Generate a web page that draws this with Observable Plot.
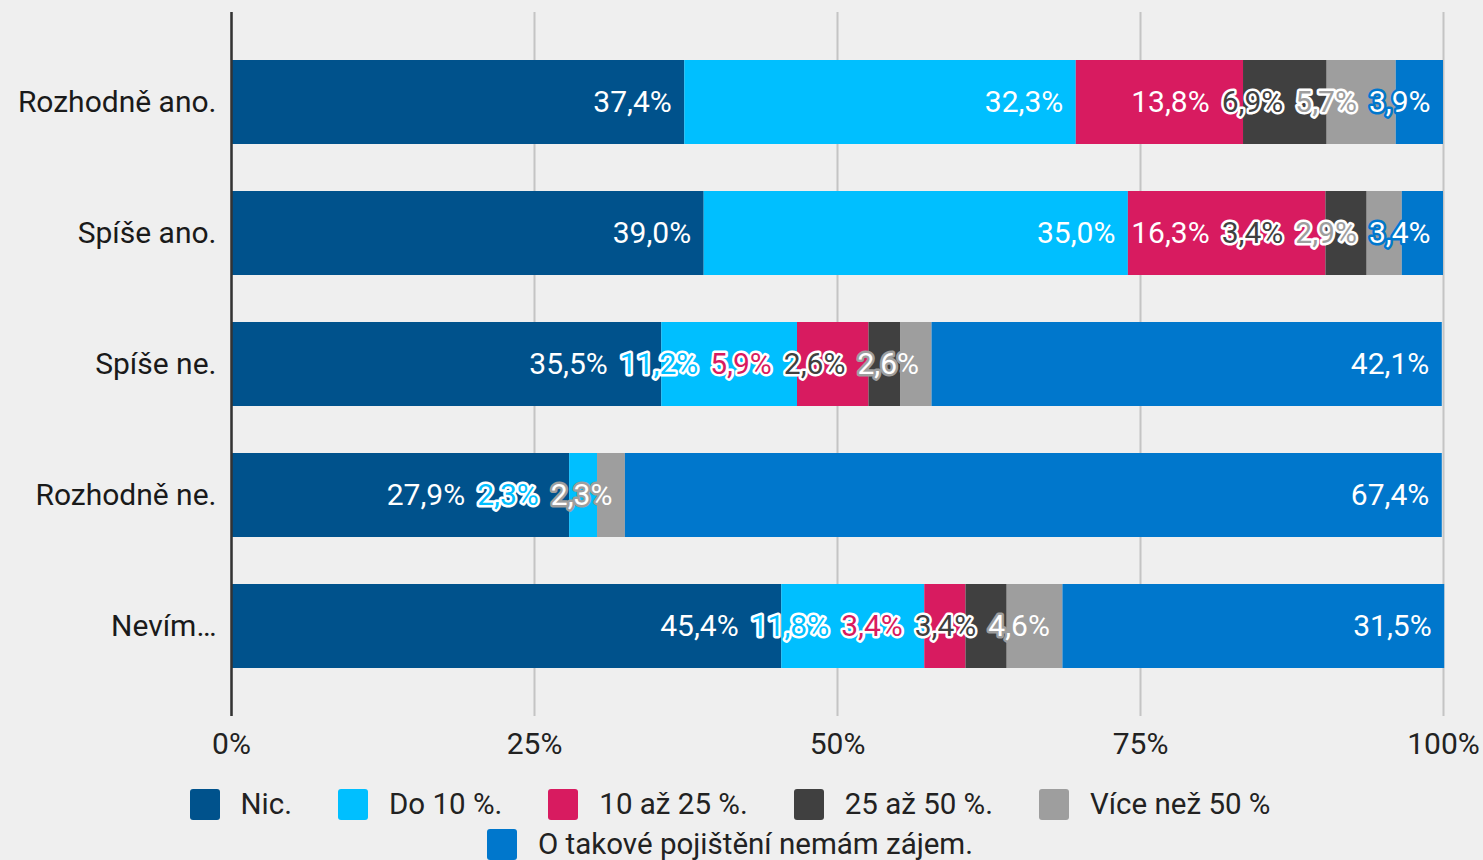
<!DOCTYPE html>
<html>
<head>
<meta charset="utf-8">
<script src="https://cdn.jsdelivr.net/npm/d3@7"></script>
<script src="https://cdn.jsdelivr.net/npm/@observablehq/plot@0.6"></script>
<style>
  html, body { margin: 0; padding: 0; background: #efefef; font-family: Roboto, sans-serif; }
  #wrap { position: relative; width: 1483px; height: 860px; overflow: hidden; }
  #legend { position: absolute; left: 0; top: 789px; width: 1460px; }
  #legend .inner { max-width: 1150px; margin: 0 auto; display: flex; flex-wrap: wrap; justify-content: center; column-gap: 46px; row-gap: 10px; }
  .item { display: flex; align-items: center; font-size: 29.5px; color: #222; height: 30px; }
  .sw { width: 30px; height: 31px; border-radius: 3px; margin-right: 21px; }
</style>
</head>
<body>
<div id="wrap"><div id="chart"></div><div id="legend"><div class="inner"></div></div></div>
<script>
const categories = ["Rozhodně ano.", "Spíše ano.", "Spíše ne.", "Rozhodně ne.", "Nevím…"];
const seriesNames = ["Nic.", "Do 10 %.", "10 až 25 %.", "25 až 50 %.", "Více než 50 %", "O takové pojištění nemám zájem."];
const seriesColors = ["#00528c", "#00bfff", "#d81b60", "#404040", "#9e9e9e", "#0077cc"];
const nic        = [37.4, 39.0, 35.5, 27.9, 45.4];
const do10       = [32.3, 35.0, 11.2, 2.3, 11.8];
const p10to25    = [13.8, 16.3, 5.9, 0, 3.4];
const p25to50    = [6.9, 3.4, 2.6, 0, 3.4];
const over50     = [5.7, 2.9, 2.6, 2.3, 4.6];
const noInterest = [3.9, 3.4, 42.1, 67.4, 31.5];
const xTicks = [0, 25, 50, 75, 100];

const series = [nic, do10, p10to25, p25to50, over50, noInterest];

const W = 1483, H = 770, mL = 231, mR = 40, mT = 12, mB = 54;
const plotW = W - mL - mR;
const u = 100 / plotW; // data units per px
const FS = 30;

const ctx = document.createElement("canvas").getContext("2d");
ctx.font = `${FS}px Roboto`;
const fmt = v => v.toFixed(1).replace(".", ",") + "%";

// build stacked segments
const segs = [];
categories.forEach((cat, ci) => {
  let acc = 0;
  series.forEach((vals, si) => {
    const v = vals[ci];
    segs.push({cat, si, name: seriesNames[si], color: seriesColors[si], v, x1: acc, x2: acc + v});
    acc += v;
  });
});

// label layout: right-aligned at segment end, pushed left to avoid overlap
const labels = [];
const pad = 13, gap = 12;
categories.forEach(cat => {
  const row = segs.filter(s => s.cat === cat && s.v > 0);
  let nextLeft = Infinity;
  for (let i = row.length - 1; i >= 0; i--) {
    const s = row[i];
    const text = fmt(s.v);
    const w = ctx.measureText(text).width * u;
    const desired = s.x2 - pad * u;
    const right = Math.min(desired, nextLeft - gap * u);
    const left = right - w;
    const pushed = right < desired - 0.5 * u;
    const inside = left >= s.x1 + 2 * u;
    labels.push({cat, text, x: right, color: s.color, style: inside ? "plain" : pushed ? "filled" : "halo"});
    nextLeft = left;
  }
});

const chart = Plot.plot({
  width: W, height: H,
  marginLeft: mL, marginRight: mR, marginTop: mT, marginBottom: mB,
  style: {fontFamily: "Roboto", background: "transparent"},
  x: {domain: [0, 100], axis: null},
  y: {domain: categories, padding: 0.36, axis: null},
  color: {domain: seriesNames, range: seriesColors},
  marks: [
    Plot.ruleX(xTicks, {stroke: "#c4c4c4", strokeWidth: 2}),
    Plot.barX(segs.filter(s => s.v > 0), {y: "cat", x1: "x1", x2: "x2", fill: "name", inset: 0}),
    Plot.ruleX([0], {stroke: "#333", strokeWidth: 2.5}),
    Plot.axisX({ticks: xTicks, tickFormat: d => d + "%", tickSize: 0, tickPadding: 16, fontSize: FS, color: "#222", label: null}),
    Plot.axisY({tickSize: 0, tickPadding: 15, fontSize: FS, color: "#1a1a1a", label: null}),
    Plot.text(labels.filter(d => d.style === "plain"), {y: "cat", x: "x", text: "text", textAnchor: "end", fill: "white", fontSize: FS}),
    Plot.text(labels.filter(d => d.style === "filled"), {y: "cat", x: "x", text: "text", textAnchor: "end", fill: d => d.color, stroke: "white", strokeWidth: 5, strokeLinejoin: "round", paintOrder: "stroke", fontSize: FS}),
    Plot.text(labels.filter(d => d.style === "halo"), {y: "cat", x: "x", text: "text", textAnchor: "end", fill: "white", stroke: d => d.color, strokeWidth: 5, strokeLinejoin: "round", paintOrder: "stroke", fontSize: FS})
  ]
});
document.getElementById("chart").append(chart);

const inner = document.querySelector("#legend .inner");
seriesNames.forEach((n, i) => {
  const it = document.createElement("div");
  it.className = "item";
  it.innerHTML = `<span class="sw" style="background:${seriesColors[i]}"></span><span></span>`;
  it.lastChild.textContent = n;
  inner.append(it);
});
</script>
</body>
</html>
